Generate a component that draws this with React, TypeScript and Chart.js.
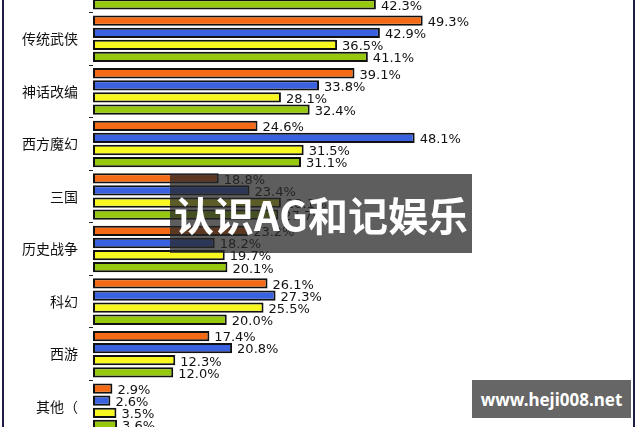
import React, { useEffect, useRef } from "react";
import { Chart, registerables } from "chart.js";

Chart.register(...registerables);

const categories = ["", "传统武侠", "神话改编", "西方魔幻", "三国", "历史战争", "科幻", "西游", "其他（"];
const seriesNames = ["系列1", "系列2", "系列3", "系列4"];
const orangeValues = [null, 49.3, 39.1, 24.6, 18.8, 23.2, 26.1, 17.4, 2.9];
const blueValues = [null, 42.9, 33.8, 48.1, 23.4, 18.2, 27.3, 20.8, 2.6];
const yellowValues = [null, 36.5, 28.1, 31.5, 28.1, 19.7, 25.5, 12.3, 3.5];
const greenValues = [42.3, 41.1, 32.4, 31.1, 27.7, 20.1, 20.0, 12.0, 3.6];
const seriesColors = ["#f56a14", "#3a62e0", "#f8f820", "#96c80e"];

const valueLabels = {
  id: "valueLabels",
  afterDatasetsDraw(chart: any) {
    const ctx = chart.ctx;
    ctx.save();
    ctx.font = '13px "DejaVu Sans"';
    ctx.fillStyle = "#111";
    ctx.textAlign = "left";
    ctx.textBaseline = "middle";
    chart.data.datasets.forEach((ds: any, i: number) => {
      const meta = chart.getDatasetMeta(i);
      meta.data.forEach((el: any, j: number) => {
        const v = ds.data[j];
        if (v === null || v === undefined) return;
        ctx.fillText(v.toFixed(1) + "%", el.x + 5, el.y + 2);
      });
    });
    ctx.restore();
  },
};

export default function App() {
  const canvasRef = useRef<HTMLCanvasElement>(null);

  useEffect(() => {
    if (!canvasRef.current) return;
    const all = [orangeValues, blueValues, yellowValues, greenValues];
    const chart = new Chart(canvasRef.current, {
      type: "bar",
      data: {
        labels: categories,
        datasets: all.map((vals, i) => ({
          label: seriesNames[i],
          data: vals,
          backgroundColor: seriesColors[i],
          borderColor: "#111",
          borderWidth: 2,
          borderSkipped: false,
          barPercentage: 0.85,
          categoryPercentage: 0.92,
        })),
      },
      options: {
        indexAxis: "y",
        animation: false,
        responsive: true,
        maintainAspectRatio: false,
        layout: { padding: { left: 0, right: 12, top: 0, bottom: 0 } },
        plugins: {
          legend: { display: false },
          tooltip: { enabled: false },
          title: { display: false },
        },
        scales: {
          x: { display: false, min: 0, max: 80 },
          y: {
            grid: {
              offset: true,
              drawOnChartArea: false,
              drawTicks: true,
              tickLength: 4,
              color: "#222",
            },
            border: { display: false },
            ticks: {
              autoSkip: false,
              padding: 11,
              color: "#111",
              font: { family: '"Noto Sans CJK SC"', size: 14 },
            },
            afterFit(scale: any) {
              scale.width = 93;
              scale.paddingTop = 0;
              scale.paddingBottom = 0;
            },
          },
        },
      },
      plugins: [valueLabels],
    } as any);
    return () => chart.destroy();
  }, []);

  return (
    <div
      style={{
        position: "fixed",
        left: 0,
        top: 0,
        width: 640,
        height: 427,
        overflow: "hidden",
        background: "#fff",
      }}
    >
      <div style={{ position: "absolute", left: 0, top: -40, width: 640, height: 473 }}>
        <canvas ref={canvasRef} />
      </div>
      <div
        style={{
          position: "absolute",
          left: 2,
          top: 0,
          width: 633,
          height: 427,
          boxSizing: "border-box",
          borderLeft: "2px solid #1c1c44",
          borderRight: "2px solid #1c1c44",
          pointerEvents: "none",
        }}
      />
      <div
        style={{
          position: "absolute",
          left: 170,
          top: 174,
          width: 302,
          height: 79,
          background: "rgba(40,40,40,0.75)",
          color: "#fff",
          display: "flex",
          alignItems: "center",
          justifyContent: "center",
          fontFamily: '"Noto Sans CJK SC"',
          fontWeight: 700,
          fontSize: 40,
          lineHeight: 1,
          whiteSpace: "nowrap",
        }}
      >
        认识AG和记娱乐
      </div>
      <div
        style={{
          position: "absolute",
          left: 472,
          top: 380,
          width: 159,
          height: 38,
          background: "#666",
          color: "#fff",
          display: "flex",
          alignItems: "center",
          justifyContent: "center",
          fontFamily: '"Noto Sans"',
          fontWeight: 700,
          fontSize: 17,
          lineHeight: 1,
          whiteSpace: "nowrap",
        }}
      >
        www.heji008.net
      </div>
    </div>
  );
}
